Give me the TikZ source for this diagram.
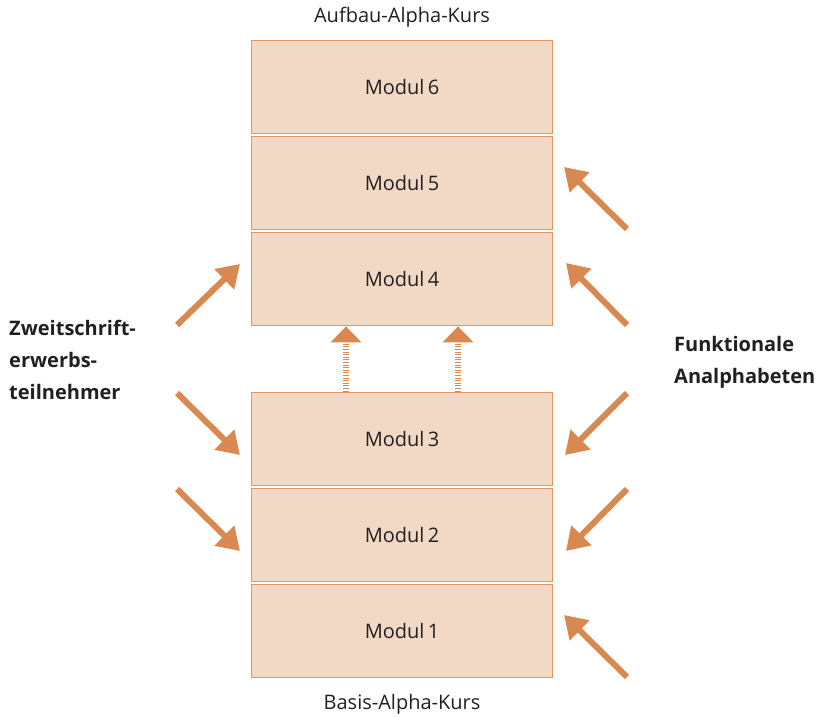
\documentclass[tikz,border=0pt]{standalone}
\usepackage{fontspec}
\setmainfont{Open Sans}
\usetikzlibrary{arrows.meta}
\definecolor{boxfill}{HTML}{F2D9C6}
\definecolor{boxline}{HTML}{E3955F}
\definecolor{arr}{HTML}{D9884F}
\definecolor{txt}{HTML}{231F20}
\begin{document}
\begin{tikzpicture}[x=1pt,y=-1pt,
  modbox/.style={draw=boxline,fill=boxfill,line width=1.8pt,minimum width=301pt,minimum height=93pt,inner sep=0pt,
    font=\fontsize{20}{24}\selectfont,text=txt},
  lbl/.style={font=\fontsize{20}{24}\selectfont,text=txt,inner sep=0pt},
  side/.style={font=\bfseries\fontsize{20}{32}\selectfont,text=txt,inner sep=0pt,align=left},
  bigarrow/.style={draw=arr,line width=6pt,-{Triangle[length=22pt,width=27pt]}},
  dotarrow/.style={draw=arr,line width=6pt,dash pattern=on 1pt off 1.6pt,-{Triangle[length=16pt,width=30pt]}}]
\useasboundingbox (0,0) rectangle (822,716);
\node[modbox] (m6) at (402,87) {Modul\,6};
\node[modbox] (m5) at (402,183) {Modul\,5};
\node[modbox] (m4) at (402,279) {Modul\,4};
\node[modbox] (m3) at (402,439) {Modul\,3};
\node[modbox] (m2) at (402,535) {Modul\,2};
\node[modbox] (m1) at (402,631) {Modul\,1};
\node[lbl] (top) at (402,17) {Aufbau-Alpha-Kurs};
\node[lbl] (bot) at (402,704) {Basis-Alpha-Kurs};
\node[side,anchor=north west] (zw) at (9,320) {Zweitschrift-\\erwerbs-\\teilnehmer};
\node[side,anchor=north west] (fa) at (674,336) {Funktionale\\Analphabeten};
% left arrows
\coordinate (l4a) at (177,325); \coordinate (l4b) at (240,264);
\coordinate (l3a) at (177,393); \coordinate (l3b) at (240,455);
\coordinate (l2a) at (177,489); \coordinate (l2b) at (240,551);
\draw[bigarrow] (l4a) -- (l4b);
\draw[bigarrow] (l3a) -- (l3b);
\draw[bigarrow] (l2a) -- (l2b);
% right arrows
\coordinate (r5a) at (627,229); \coordinate (r5b) at (564,167);
\coordinate (r4a) at (627,325); \coordinate (r4b) at (566,263);
\coordinate (r3a) at (627,393); \coordinate (r3b) at (565,455);
\coordinate (r2a) at (627,489); \coordinate (r2b) at (566,551);
\coordinate (r1a) at (627,677); \coordinate (r1b) at (564,615);
\draw[bigarrow] (r5a) -- (r5b);
\draw[bigarrow] (r4a) -- (r4b);
\draw[bigarrow] (r3a) -- (r3b);
\draw[bigarrow] (r2a) -- (r2b);
\draw[bigarrow] (r1a) -- (r1b);
% dotted arrows
\draw[dotarrow] ([xshift=-56pt]m3.north) -- ([xshift=-56pt]m4.south);
\draw[dotarrow] ([xshift=56pt]m3.north) -- ([xshift=56pt]m4.south);
\end{tikzpicture}
\end{document}
